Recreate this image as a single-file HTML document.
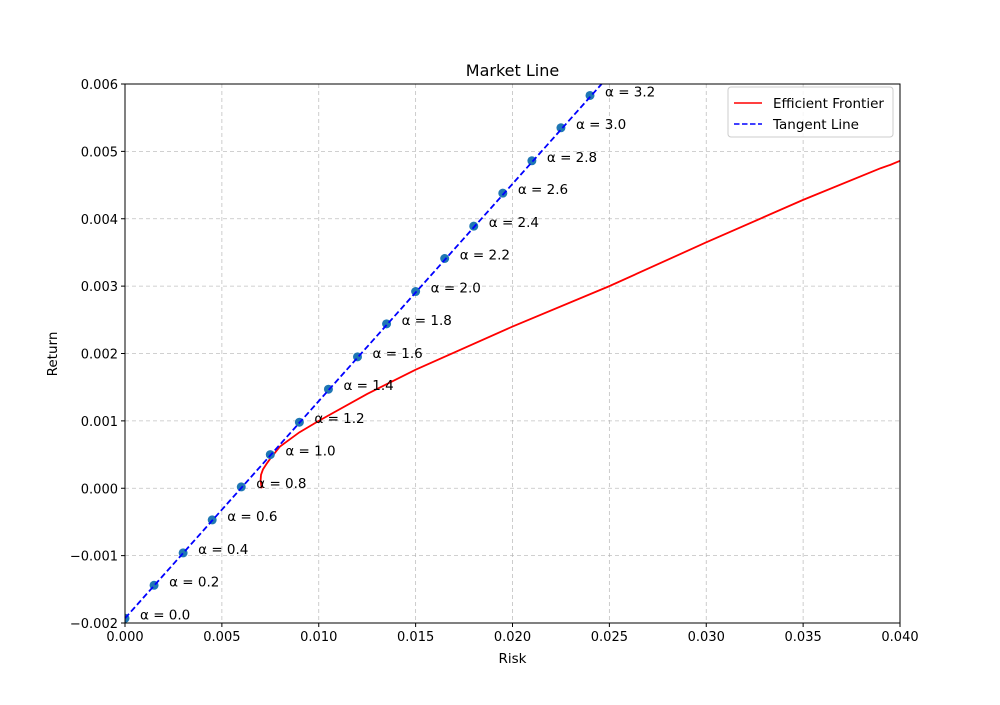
<!DOCTYPE html>
<html><head><meta charset="utf-8"><style>
body{margin:0;background:#fff}
svg text{font-family:"DejaVu Sans","Liberation Sans",sans-serif;}
</style></head><body>
<svg id="chart" width="1000" height="700">
<rect width="1000" height="700" fill="#fff"/>
<g id="grid"></g>
<g id="series"></g>
<g id="axes"></g>
<text x="512.5" y="76" text-anchor="middle" font-size="16">Market Line</text>
<text x="512.5" y="663" text-anchor="middle" font-size="13.5">Risk</text>
<text x="57" y="354" text-anchor="middle" font-size="13.5" transform="rotate(-90 57 354)">Return</text>
<g>
<rect x="728" y="87" width="165" height="50" rx="3" fill="#fff" fill-opacity="0.8" stroke="#ccc"/>
<g>
<line x1="734" y1="103" x2="762" y2="103" stroke="red" stroke-width="1.5"/>
<text x="773" y="108" font-size="13.5">Efficient Frontier</text></g>
<g>
<line x1="734" y1="124" x2="762" y2="124" stroke="blue" stroke-width="1.5" stroke-dasharray="5.5,2.5"/>
<text x="773" y="129" font-size="13.5">Tangent Line</text></g>
</g>
</svg>
<script>
const xTicks=[0,0.005,0.01,0.015,0.02,0.025,0.03,0.035,0.04];
const yTicks=[-0.002,-0.001,0,0.001,0.002,0.003,0.004,0.005,0.006];
const frontierRisk=[0.00705,0.00700,0.00702,0.00712,0.0073,0.0075,0.0080,0.0090,0.0100,0.0125,0.0150,0.0200,0.0250,0.0300,0.0350,0.0390,0.0395,0.0400];
const frontierReturn=[0.0,0.00012,0.00020,0.00028,0.00036,0.00044,0.00062,0.00083,0.00100,0.00140,0.00176,0.00240,0.00300,0.00365,0.00428,0.00475,0.00480,0.00486];
const alphas=[0,0.2,0.4,0.6,0.8,1.0,1.2,1.4,1.6,1.8,2.0,2.2,2.4,2.6,2.8,3.0,3.2];
const pointRisk=[0,0.0015,0.003,0.0045,0.006,0.0075,0.009,0.0105,0.012,0.0135,0.015,0.0165,0.018,0.0195,0.021,0.0225,0.024];
const pointReturn=[-0.00193,-0.00144,-0.00096,-0.00047,0.00002,0.00050,0.00098,0.00147,0.00195,0.00244,0.00292,0.00341,0.00389,0.00438,0.00486,0.00535,0.00583];
const lineRisk=[0,0.02460];
const lineReturn=[-0.00193,0.00600];
const X0=125,X1=900,Y0=623,Y1=84;
const xs=v=>X0+(v-0)/0.04*(X1-X0);
const ys=v=>Y0-(v+0.002)/0.008*(Y0-Y1);
const NS="http://www.w3.org/2000/svg";
function mk(p,t,a){const e=document.createElementNS(NS,t);for(const k in a)e.setAttribute(k,a[k]);p.appendChild(e);return e;}
const grid=document.getElementById('grid'),axes=document.getElementById('axes'),ser=document.getElementById('series');
xTicks.forEach(v=>{const x=xs(v);
 const g=mk(grid,'line',{x1:x,x2:x,y1:Y1,y2:Y0,stroke:'#b0b0b0','stroke-dasharray':'4,3','stroke-width':0.8,'stroke-opacity':0.8});
 
 mk(axes,'line',{x1:x,x2:x,y1:Y0,y2:Y0+4,stroke:'#000'});
 const t=mk(axes,'text',{x:x,y:Y0+18,'text-anchor':'middle','font-size':13});t.textContent=v.toFixed(3);
 });
yTicks.forEach(v=>{const y=ys(v);
 const g=mk(grid,'line',{x1:X0,x2:X1,y1:y,y2:y,stroke:'#b0b0b0','stroke-dasharray':'4,3','stroke-width':0.8,'stroke-opacity':0.8});
 
 mk(axes,'line',{x1:X0-4,x2:X0,y1:y,y2:y,stroke:'#000'});
 const t=mk(axes,'text',{x:X0-7,y:y+5,'text-anchor':'end','font-size':13});t.textContent=v.toFixed(3).replace('-','\u2212');
 });
const fr=mk(ser,'polyline',{points:frontierRisk.map((r,i)=>xs(r)+','+ys(frontierReturn[i])).join(' '),fill:'none',stroke:'red','stroke-width':1.8});

const cp=mk(ser,'clipPath',{id:'clip'});mk(cp,'rect',{x:X0,y:Y1,width:X1-X0,height:Y0-Y1});
alphas.forEach((a,i)=>{const x=xs(pointRisk[i]),y=ys(pointReturn[i]);
 const c=mk(ser,'circle',{cx:x,cy:y,r:4.5,fill:'#1f77b4','clip-path':'url(#clip)'});
 
 const t=mk(ser,'text',{x:x+15,y:y+1,'font-size':13.5});t.textContent='\u03b1 = '+a.toFixed(1);
 });
const tl=mk(ser,'polyline',{points:lineRisk.map((r,i)=>xs(r)+','+ys(lineReturn[i])).join(' '),fill:'none',stroke:'blue','stroke-width':1.8,'stroke-dasharray':'6,3'});

const fr2=mk(axes,'rect',{x:X0,y:Y1,width:X1-X0,height:Y0-Y1,fill:'none',stroke:'#000','stroke-width':1});

</script>
</body></html>
